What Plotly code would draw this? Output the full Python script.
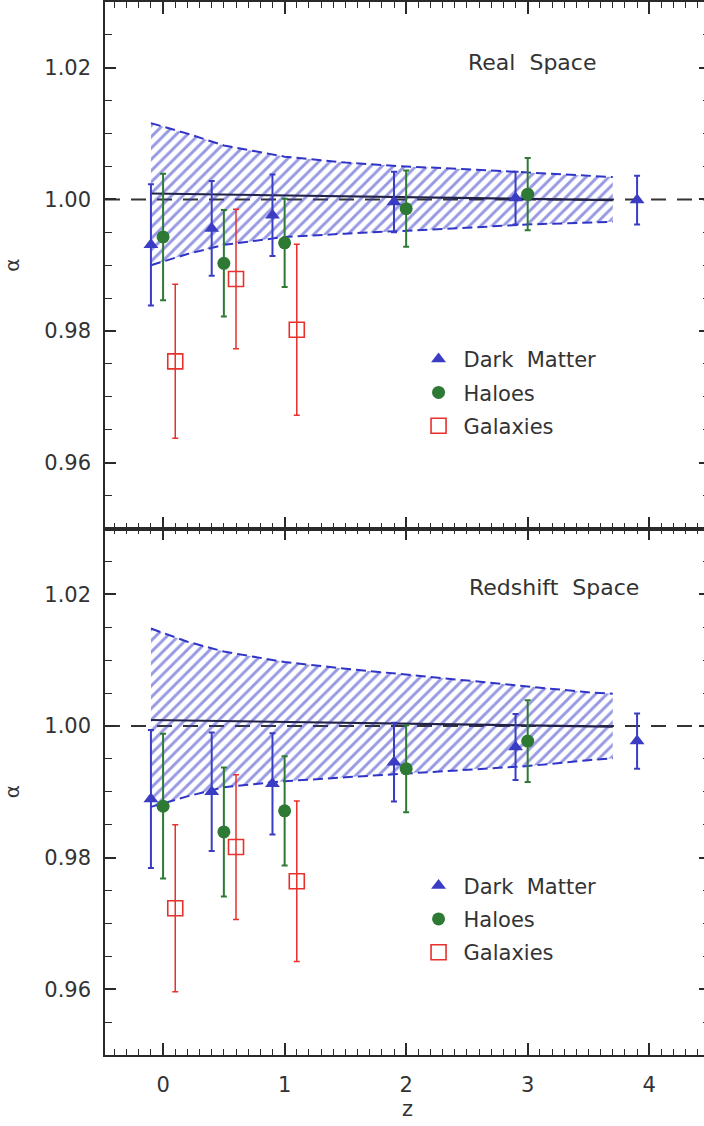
import plotly.graph_objects as go

# ---------------- data ----------------
z_dm = [-0.1, 0.4, 0.9, 1.9, 2.9, 3.9]
z_halo = [0.0, 0.5, 1.0, 2.0, 3.0]
z_gal = [0.1, 0.6, 1.1]

# Real space
real_dm = [0.9931, 0.9956, 0.9976, 0.9996, 1.0002, 0.9999]
real_dm_err = [0.0092, 0.0072, 0.0062, 0.0046, 0.0040, 0.0037]
real_halo = [0.9943, 0.9903, 0.9934, 0.9986, 1.0008]
real_halo_err = [0.0096, 0.0081, 0.0067, 0.0058, 0.0055]
real_gal = [0.9754, 0.9879, 0.9802]
real_gal_err = [0.0117, 0.0106, 0.0130]

# Redshift space
red_dm = [0.9889, 0.9900, 0.9912, 0.9945, 0.9968, 0.9977]
red_dm_err = [0.0105, 0.0090, 0.0077, 0.0060, 0.0050, 0.0042]
red_halo = [0.9878, 0.9839, 0.9871, 0.9935, 0.9977]
red_halo_err = [0.0110, 0.0098, 0.0083, 0.0066, 0.0062]
red_gal = [0.9723, 0.9816, 0.9764]
red_gal_err = [0.0127, 0.0110, 0.0122]

# prediction band
z_band = [-0.1, 0.2, 0.5, 1.0, 1.5, 2.0, 2.5, 3.0, 3.5, 3.7]
real_band_hi = [1.0116, 1.0100, 1.0082, 1.0065, 1.0056, 1.0050, 1.0046, 1.0041, 1.0036, 1.0034]
real_band_lo = [0.9900, 0.9917, 0.9931, 0.9943, 0.9948, 0.9952, 0.9957, 0.9962, 0.9965, 0.9966]
red_band_hi = [1.0148, 1.0128, 1.0113, 1.0097, 1.0087, 1.0078, 1.0068, 1.0059, 1.0051, 1.0049]
red_band_lo = [0.9877, 0.9893, 0.9907, 0.9916, 0.9922, 0.9928, 0.9934, 0.9939, 0.9948, 0.9951]
z_fid = [-0.1, 3.7]
fid_line = [1.0009, 0.9999]

panel_titles = ["Real&nbsp;&nbsp;Space", "Redshift&nbsp;&nbsp;Space"]
legend_names = ["Dark&nbsp;&nbsp;Matter", "Haloes", "Galaxies"]
y_ticks = [0.96, 0.98, 1.00, 1.02]
x_ticks = [0, 1, 2, 3, 4]

# ---------------- style ----------------
BLUE = "#3a3dc4"
GREEN = "#2e7a35"
RED = "#e8302c"
HATCH = "#3035c8"
AX = "#2a2a2a"
TXT = "#333333"
FONT = "DejaVu Sans"

fig = go.Figure()

panels = [
    dict(xa="x", ya="y", leg="legend",
         dm=real_dm, dme=real_dm_err, h=real_halo, he=real_halo_err,
         g=real_gal, ge=real_gal_err, hi=real_band_hi, lo=real_band_lo),
    dict(xa="x2", ya="y2", leg="legend2",
         dm=red_dm, dme=red_dm_err, h=red_halo, he=red_halo_err,
         g=red_gal, ge=red_gal_err, hi=red_band_hi, lo=red_band_lo),
]

for i, p in enumerate(panels):
    # hatched band
    fig.add_trace(go.Scatter(
        x=z_band + z_band[::-1], y=p["hi"] + p["lo"][::-1],
        xaxis=p["xa"], yaxis=p["ya"], mode="lines", fill="toself",
        line=dict(width=0, color="rgba(0,0,0,0)"),
        fillcolor="rgba(0,0,0,0)",
        fillpattern=dict(shape="/", fgcolor=HATCH, bgcolor="rgba(0,0,0,0)",
                         size=8, solidity=0.36),
        showlegend=False, hoverinfo="skip"))
    for edge in (p["hi"], p["lo"]):
        fig.add_trace(go.Scatter(
            x=z_band, y=edge, xaxis=p["xa"], yaxis=p["ya"], mode="lines",
            line=dict(color=HATCH, width=2, dash="10px,5px"),
            showlegend=False, hoverinfo="skip"))
    fig.add_trace(go.Scatter(
        x=z_fid, y=fid_line, xaxis=p["xa"], yaxis=p["ya"], mode="lines",
        line=dict(color="#22224a", width=2.2), showlegend=False, hoverinfo="skip"))

    # data
    fig.add_trace(go.Scatter(
        x=z_dm, y=p["dm"], xaxis=p["xa"], yaxis=p["ya"], mode="markers",
        name=legend_names[0], legend=p["leg"], legendgroup=f"dm{i}",
        marker=dict(symbol="triangle-up", size=13, color=BLUE),
        error_y=dict(type="data", array=p["dme"], color=BLUE, thickness=2, width=3)))
    fig.add_trace(go.Scatter(
        x=z_halo, y=p["h"], xaxis=p["xa"], yaxis=p["ya"], mode="markers",
        name=legend_names[1], legend=p["leg"], legendgroup=f"h{i}",
        marker=dict(symbol="circle", size=13, color=GREEN),
        error_y=dict(type="data", array=p["he"], color=GREEN, thickness=2, width=3)))
    fig.add_trace(go.Scatter(
        x=z_gal, y=p["g"], xaxis=p["xa"], yaxis=p["ya"], mode="markers",
        name=legend_names[2], legend=p["leg"], legendgroup=f"g{i}",
        marker=dict(symbol="square-open", size=15, color=RED, line=dict(width=1.6, color=RED)),
        error_y=dict(type="data", array=p["ge"], color=RED, thickness=1.5, width=3)))

# dashed reference line at alpha = 1
for ya, xr in (("y", "x domain"), ("y2", "x2 domain")):
    fig.add_shape(type="line", xref=xr, yref=ya, x0=0, x1=1, y0=1.0, y1=1.0,
                  line=dict(color="#333333", width=2, dash="15px,11px"), layer="below")

xax = dict(range=[-0.478, 4.5], tickvals=x_ticks, ticks="inside", ticklen=12, tickwidth=1.5,
           tickcolor=AX, showline=True, linecolor=AX, linewidth=1.5, mirror="allticks",
           showgrid=False, zeroline=False,
           minor=dict(ticks="inside", dtick=0.1, tick0=0, ticklen=6, tickwidth=1.2,
                      tickcolor=AX, showgrid=False),
           tickfont=dict(family=FONT, size=21, color=TXT))
yax = dict(range=[0.95, 1.03], tickvals=y_ticks, tickformat=".2f", ticks="inside",
           ticklen=11, tickwidth=1.5, tickcolor=AX, showline=True, linecolor=AX,
           linewidth=1.5, mirror="allticks", showgrid=False, zeroline=False,
           minor=dict(ticks="inside", dtick=0.005, tick0=0.95, ticklen=7, tickwidth=1.2,
                      tickcolor=AX, showgrid=False),
           tickfont=dict(family=FONT, size=21, color=TXT), ticklabelstandoff=8,
           title=dict(text="α", font=dict(family=FONT, size=20, color=TXT), standoff=19))

legend_common = dict(xanchor="left", yanchor="top", bgcolor="rgba(0,0,0,0)",
                     font=dict(family=FONT, size=21, color=TXT), traceorder="grouped",
                     tracegroupgap=3, itemwidth=40)

fig.update_layout(
    width=712, height=1126,
    margin=dict(l=105, r=0, t=2, b=71),
    paper_bgcolor="white", plot_bgcolor="white",
    font=dict(family=FONT, size=21, color=TXT),
    xaxis=dict(xax, domain=[0, 1], anchor="y", showticklabels=False),
    yaxis=dict(yax, domain=[0.5, 1.0], anchor="x"),
    xaxis2=dict(xax, domain=[0, 1], anchor="y2", matches="x", ticklabelstandoff=10,
                title=dict(text="z", font=dict(family=FONT, size=21, color=TXT), standoff=0)),
    yaxis2=dict(yax, domain=[0.0, 0.5], anchor="x2"),
    legend=dict(legend_common, x=0.510, y=0.680),
    legend2=dict(legend_common, x=0.510, y=0.180),
    showlegend=True,
)

fig.add_annotation(text=panel_titles[0], xref="paper", yref="paper", x=0.705, y=0.943,
                   xanchor="center", yanchor="middle",
                   showarrow=False, font=dict(family=FONT, size=22, color=TXT))
fig.add_annotation(text=panel_titles[1], xref="paper", yref="paper", x=0.742, y=0.4435,
                   xanchor="center", yanchor="middle",
                   showarrow=False, font=dict(family=FONT, size=22, color=TXT))

post = ("document.documentElement.style.margin='0';document.body.style.margin='0';"
        "document.body.style.overflow='hidden';document.documentElement.style.overflow='hidden';")
fig.write_html("out.html", post_script=post, config={"displayModeBar": False})
